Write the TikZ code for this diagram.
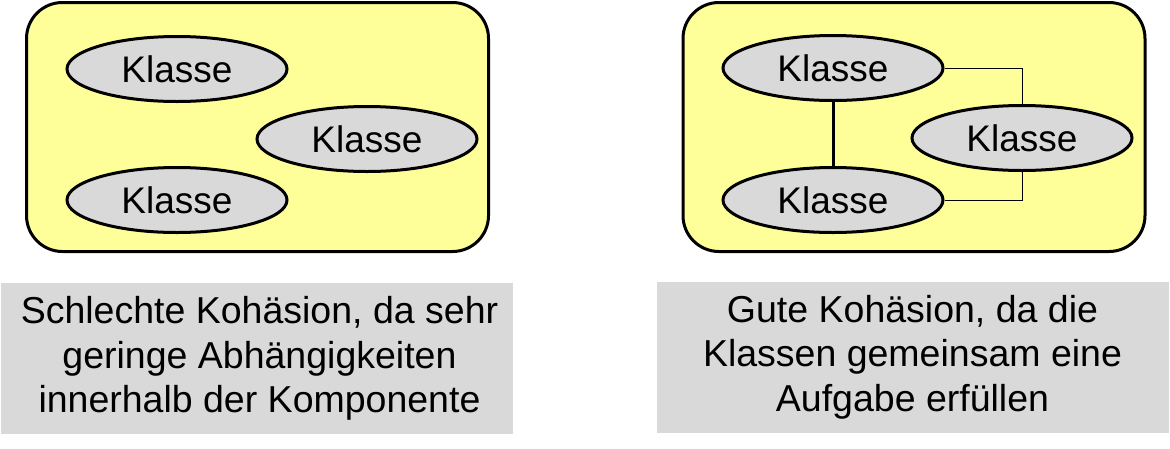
\documentclass[tikz,border=0pt]{standalone}
\usepackage{fontspec}
\setmainfont{Liberation Sans}
\usetikzlibrary{shapes.geometric}
\definecolor{boxyellow}{HTML}{FFFF99}
\definecolor{ellgray}{HTML}{D9D9D9}
\definecolor{capgray}{HTML}{D9D9D9}
\begin{document}
\begin{tikzpicture}[x=1pt,y=-1pt,
  compbox/.style={draw=black,line width=3pt,fill=boxyellow,rounded corners=36pt,
    minimum width=462pt,minimum height=249pt,inner sep=0pt},
  klasse/.style={ellipse,draw=black,line width=3pt,fill=ellgray,
    minimum width=220pt,minimum height=65pt,inner sep=0pt,
    font=\fontsize{37}{40}\selectfont},
  caption/.style={fill=capgray,inner sep=0pt,align=center,
    minimum width=512pt,minimum height=151pt,
    font=\fontsize{37.5}{44.5}\selectfont},
  strong/.style={line width=3pt},
  weak/.style={line width=1pt}]
\useasboundingbox (0,0) rectangle (1170,448);
% left component
\node[compbox] (cL) at (257.5,127) {};
\node[klasse] (l1) at (177,69) {Klasse};
\node[klasse] (l2) at (367,139) {Klasse};
\node[klasse] (l3) at (177,200) {Klasse};
% right component
\node[compbox] (cR) at (914,127) {};
\node[klasse] (r1) at (833,68) {Klasse};
\node[klasse] (r2) at (1022,138) {Klasse};
\node[klasse] (r3) at (833,200) {Klasse};
\draw[strong] (r1.south) -- (r3.north);
\draw[weak] (r1.east) -| (r2.north);
\draw[weak] (r2.south) |- (r3.east);
% captions
\node[caption] (tL) at (256.5,358.5) {};
\node[align=center,inner sep=0pt,font=\fontsize{37.5}{44.5}\selectfont] (tLtext) at (259.5,358.5) {Schlechte Kohäsion, da sehr\\geringe Abhängigkeiten\\innerhalb der Komponente};
\node[caption] (tR) at (912.5,357) {Gute Kohäsion, da die\\Klassen gemeinsam eine\\Aufgabe erfüllen};
\end{tikzpicture}
\end{document}
